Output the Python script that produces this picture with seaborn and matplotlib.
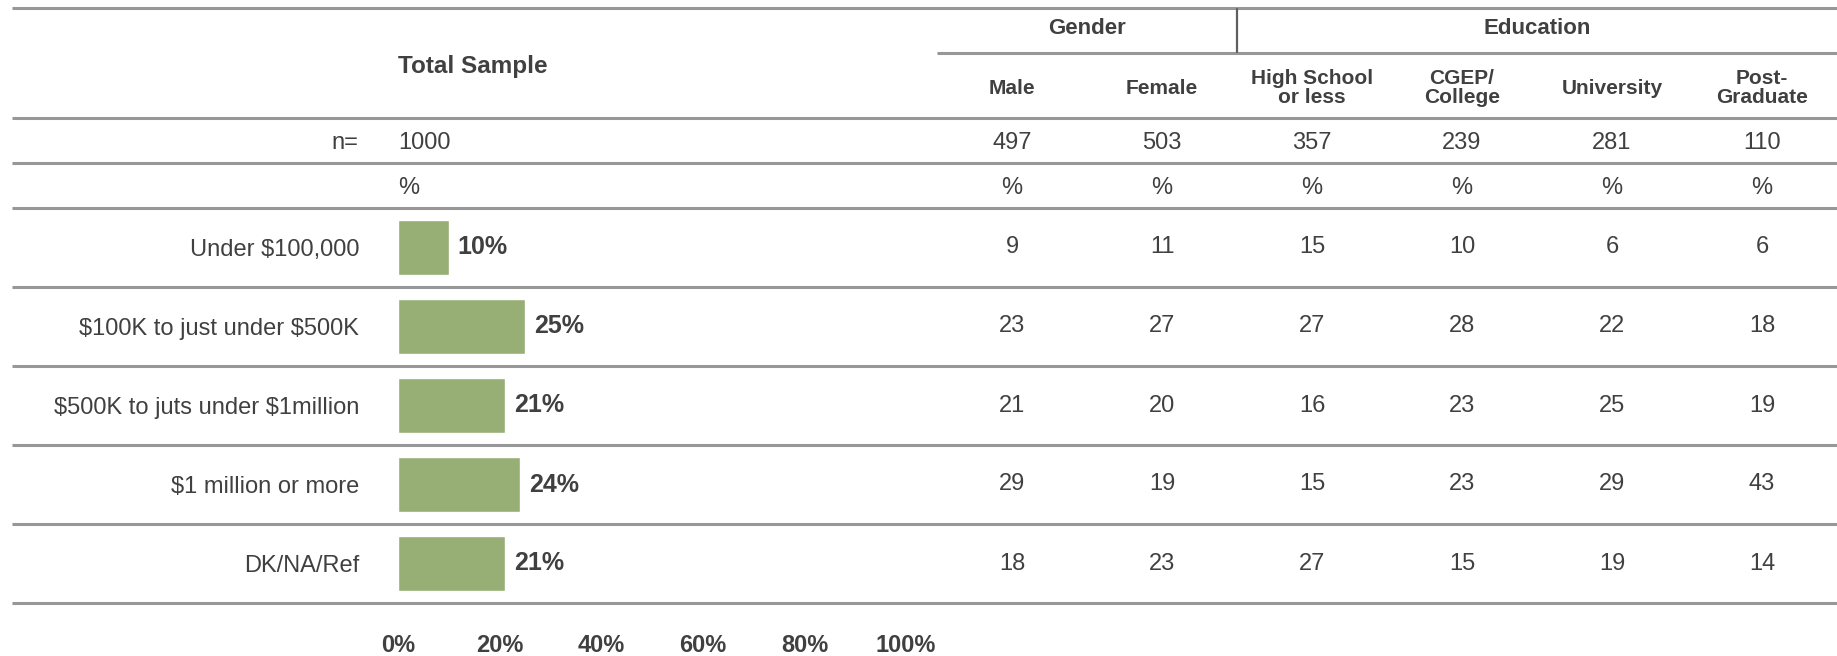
import matplotlib
matplotlib.use("Agg")
import matplotlib.pyplot as plt
import matplotlib.transforms as mtransforms
import seaborn as sns
import pandas as pd

# ---- data -------------------------------------------------------------
categories = [
    "Under $100,000",
    "$100K to just under $500K",
    "$500K to juts under $1million",
    "$1 million or more",
    "DK/NA/Ref",
]
total_sample = [10, 25, 21, 24, 21]
total_n = 1000

columns = ["Male", "Female", "High School\nor less", "CGEP/\nCollege",
           "University", "Post-\nGraduate"]
column_n = [497, 503, 357, 239, 281, 110]

male = [9, 23, 21, 29, 18]
female = [11, 27, 20, 19, 23]
high_school = [15, 27, 16, 15, 27]
cgep_college = [10, 28, 23, 23, 15]
university = [6, 22, 25, 29, 19]
post_graduate = [6, 18, 19, 43, 14]

groups = ["Gender", "Education"]
x_ticks = [0, 20, 40, 60, 80, 100]

# ---- style ------------------------------------------------------------
sns.set_theme(style="white")
plt.rcParams["font.family"] = ["Liberation Sans", "DejaVu Sans"]
plt.rcParams["text.parse_math"] = False   # dollar signs are literal

TEXT = "#404040"
RULE = "#979797"
BAR = "#97AF75"

W, H = 1837, 656
DPI = 100
fig = plt.figure(figsize=(W / DPI, H / DPI), dpi=DPI)
fig.patch.set_facecolor("white")

# full-figure layer in pixel units for rules and header text
ax_t = fig.add_axes([0, 0, 1, 1])
ax_t.set_xlim(0, W)
ax_t.set_ylim(H, 0)
ax_t.axis("off")

# bar panel: rows band, x in percent
bar_left, rows_top, rows_bottom = 398, 208, 603
px_per_pct = 5.08
ax_b = fig.add_axes([bar_left / W, (H - rows_bottom) / H,
                     (W - bar_left) / W, (rows_bottom - rows_top) / H])
ax_b.patch.set_alpha(0)

df = pd.DataFrame({"category": categories, "pct": total_sample})
sns.barplot(data=df, x="pct", y="category", orient="h", color=BAR,
            saturation=1, width=0.7, ax=ax_b)
ax_b.set_xlim(0, (W - bar_left) / px_per_pct)
ax_b.set_ylim(len(categories) - 0.5, -0.5)
ax_b.set_xlabel("")
ax_b.set_ylabel("")
for s in ax_b.spines.values():
    s.set_visible(False)
ax_b.grid(False)

ax_b.set_xticks(x_ticks)
ax_b.set_xticklabels([f"{t}%" for t in x_ticks])
ax_b.tick_params(axis="x", length=0, pad=22.5, labelsize=17, labelcolor=TEXT)
for lab in ax_b.get_xticklabels():
    lab.set_fontweight("bold")
ax_b.set_yticks(range(len(categories)))
ax_b.set_yticklabels(categories)
ax_b.tick_params(axis="y", length=0, pad=28, labelsize=17, labelcolor=TEXT)

ax_b.bar_label(ax_b.containers[0], labels=[f"{v}%" for v in total_sample],
               padding=6.5, fontsize=18, fontweight="bold", color=TEXT)

# ---- rules ------------------------------------------------------------
lw = 2.2
x0 = 12
for y in (8, 118, 163):
    ax_t.plot([x0, W], [y, y], color=RULE, lw=lw, solid_capstyle="butt")
ax_t.plot([937, W], [53, 53], color=RULE, lw=lw, solid_capstyle="butt")
ax_t.plot([1237, 1237], [9, 52], color="#5f5f5f", lw=1.6)

row_tr = mtransforms.blended_transform_factory(ax_t.transData, ax_b.transData)
for k in range(len(categories) + 1):
    ax_t.plot([x0, W], [k - 0.5, k - 0.5], color=RULE, lw=lw,
              solid_capstyle="butt", transform=row_tr)

# ---- header text ------------------------------------------------------
col_x = [1012 + 150 * i for i in range(len(columns))]

ax_t.text(bar_left, 66, "Total Sample", ha="left", va="center",
          fontsize=17.5, fontweight="bold", color=TEXT)
ax_t.text((col_x[0] + col_x[1]) / 2, 28, groups[0], ha="center", va="center",
          fontsize=16, fontweight="bold", color=TEXT)
ax_t.text((col_x[2] + col_x[5]) / 2, 28, groups[1], ha="center", va="center",
          fontsize=16, fontweight="bold", color=TEXT)
for cx, name in zip(col_x, columns):
    ax_t.text(cx, 88, name, ha="center", va="center", fontsize=15,
              fontweight="bold", color=TEXT, linespacing=1.05)

# base sizes and unit row
y_n, y_pct = 143, 188
ax_t.text(358, y_n, "n=", ha="right", va="center", fontsize=17, color=TEXT)
ax_t.text(bar_left, y_n, str(total_n), ha="left", va="center",
          fontsize=17, color=TEXT)
ax_t.text(bar_left, y_pct, "%", ha="left", va="center", fontsize=17,
          color=TEXT)
for cx, n in zip(col_x, column_n):
    ax_t.text(cx, y_n, str(n), ha="center", va="center", fontsize=17,
              color=TEXT)
    ax_t.text(cx, y_pct, "%", ha="center", va="center", fontsize=17,
              color=TEXT)

# ---- crosstab values ----------------------------------------------------
series = [male, female, high_school, cgep_college, university, post_graduate]
for cx, vals in zip(col_x, series):
    for r, v in enumerate(vals):
        ax_t.text(cx, r, str(v), ha="center", va="center", fontsize=17,
                  color=TEXT, transform=row_tr)

fig.savefig("out.png", dpi=DPI, facecolor="white")
